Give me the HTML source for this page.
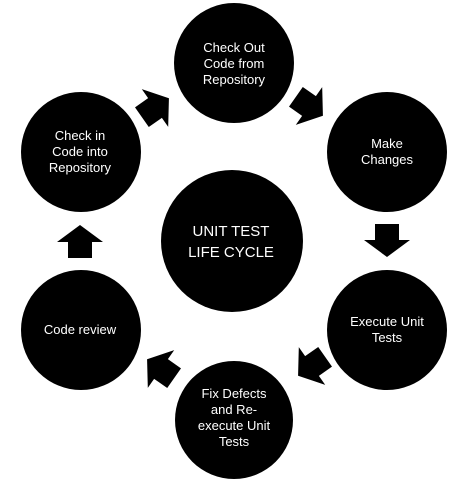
<!DOCTYPE html>
<html><head><style>html,body{margin:0;padding:0;background:#fff;width:462px;height:479px;overflow:hidden}</style></head>
<body>
<svg width="462" height="479" viewBox="0 0 462 479" xmlns="http://www.w3.org/2000/svg">
<defs>
<path id="ar" d="M-16,-12 L0,-12 L0,-23 L17,0 L0,23 L0,12 L-16,12 Z" fill="#000"/>
</defs>
<g fill="#000">
<circle cx="234" cy="63" r="60"/>
<circle cx="81" cy="152" r="60"/>
<circle cx="387" cy="152" r="60"/>
<circle cx="232" cy="241" r="71"/>
<circle cx="81" cy="330" r="60"/>
<circle cx="387" cy="330" r="60"/>
<circle cx="234" cy="420" r="59"/>
</g>
<use href="#ar" transform="translate(155,108) rotate(-35)"/>
<use href="#ar" transform="translate(309,106) rotate(35)"/>
<use href="#ar" transform="translate(387,240) rotate(90)"/>
<use href="#ar" transform="translate(312,366) rotate(145)"/>
<use href="#ar" transform="translate(161,369) rotate(-145)"/>
<use href="#ar" transform="translate(80,242) rotate(-90)"/>
<g fill="#fff" font-family="'Liberation Sans',sans-serif" font-size="13" text-anchor="middle">
<text x="234" y="52">Check Out</text>
<text x="234" y="68">Code from</text>
<text x="234" y="84">Repository</text>
<text x="80" y="140">Check in</text>
<text x="80" y="156">Code into</text>
<text x="80" y="172">Repository</text>
<text x="387" y="148">Make</text>
<text x="387" y="164">Changes</text>
<text x="80" y="334">Code review</text>
<text x="387" y="326">Execute Unit</text>
<text x="387" y="342">Tests</text>
<text x="234" y="398">Fix Defects</text>
<text x="234" y="414">and Re-</text>
<text x="234" y="430">execute Unit</text>
<text x="234" y="446">Tests</text>
<text x="231" y="236" font-size="15">UNIT TEST</text>
<text x="231" y="257" font-size="15">LIFE CYCLE</text>
</g>
</svg>
</body></html>
